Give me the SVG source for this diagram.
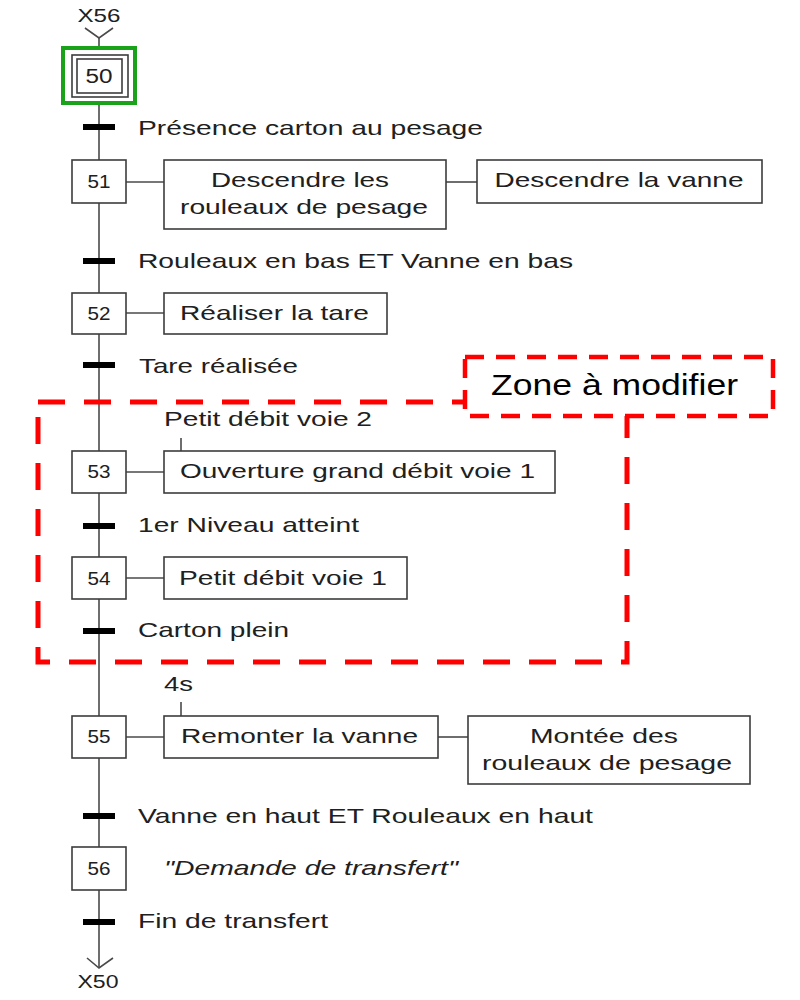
<svg xmlns="http://www.w3.org/2000/svg" width="800" height="1000" viewBox="0 0 800 1000">
<style>
  .bg{fill:#ffffff}
  .step{fill:#ffffff;stroke:#3c3c3c;stroke-width:1.6}
  .act{fill:#ffffff;stroke:#3c3c3c;stroke-width:1.6}
  .ln{stroke:#4a4a4a;stroke-width:1.6;fill:none}
  .bar{fill:#000000}
  .t{font-family:"Liberation Sans",Arial,sans-serif;font-size:21px;fill:#202020}
  .n{font-family:"Liberation Sans",Arial,sans-serif;font-size:19px;fill:#202020;text-anchor:middle}
  .m{text-anchor:middle}
  .it{font-style:italic}
  .zone{fill:none;stroke:#ff0000;stroke-width:5;stroke-dasharray:27 19}
  .zbox{fill:#ffffff;stroke:#ff0000;stroke-width:4.5;stroke-dasharray:19 12}
</style>
<rect class="bg" x="0" y="0" width="800" height="1000"/>

<g id="connectors">
  <line class="ln" x1="99" y1="38" x2="99" y2="968"/>
  <polyline class="ln" points="85,28 99,38 113,28"/>
  <polyline class="ln" points="87,958 99,968 113,958"/>
  <line class="ln" x1="126" y1="182" x2="164" y2="182"/>
  <line class="ln" x1="446" y1="182" x2="477" y2="182"/>
  <line class="ln" x1="126" y1="313" x2="164" y2="313"/>
  <line class="ln" x1="126" y1="472" x2="164" y2="472"/>
  <line class="ln" x1="181" y1="438" x2="181" y2="451"/>
  <line class="ln" x1="126" y1="578" x2="164" y2="578"/>
  <line class="ln" x1="126" y1="737" x2="164" y2="737"/>
  <line class="ln" x1="181" y1="702" x2="181" y2="716"/>
  <line class="ln" x1="438" y1="737" x2="468" y2="737"/>
</g>

<g id="zone">
  <rect class="zone" x="38" y="402" width="589" height="260"/>
  <rect class="zbox" x="465" y="357" width="308" height="59"/>
  <text x="491" y="395" font-family="Liberation Sans, Arial, sans-serif" font-size="30" fill="#000000" textLength="247" lengthAdjust="spacingAndGlyphs">Zone à modifier</text>
</g>

<g id="ref-top">
  <text class="t m" x="99" y="22" style="font-size:18px" textLength="43" lengthAdjust="spacingAndGlyphs">X56</text>
</g>

<g id="step50">
  <rect x="63" y="48" width="72" height="55" fill="#ffffff" stroke="#1aa31a" stroke-width="4"/>
  <rect class="step" x="72" y="55" width="56" height="42"/>
  <rect class="step" x="77" y="59" width="45" height="34"/>
  <text class="n" x="99" y="83" style="font-size:20px" textLength="27" lengthAdjust="spacingAndGlyphs">50</text>
</g>

<g id="t50-51">
  <rect class="bar" x="83" y="124" width="32" height="6"/>
  <text class="t" x="138" y="135" textLength="345" lengthAdjust="spacingAndGlyphs">Présence carton au pesage</text>
</g>

<g id="step51">
  <rect class="step" x="72" y="160" width="54" height="43"/>
  <text class="n" x="99" y="188" textLength="23" lengthAdjust="spacingAndGlyphs">51</text>
</g>
<g id="action51a">
  <rect class="act" x="164" y="160" width="282" height="69"/>
  <text class="t m" x="300" y="187" textLength="178" lengthAdjust="spacingAndGlyphs">Descendre les</text>
  <text class="t m" x="304" y="214" textLength="248" lengthAdjust="spacingAndGlyphs">rouleaux de pesage</text>
</g>
<g id="action51b">
  <rect class="act" x="477" y="160" width="285" height="43"/>
  <text class="t m" x="619" y="187" textLength="249" lengthAdjust="spacingAndGlyphs">Descendre la vanne</text>
</g>

<g id="t51-52">
  <rect class="bar" x="83" y="258" width="32" height="6"/>
  <text class="t" x="138" y="268" textLength="435" lengthAdjust="spacingAndGlyphs">Rouleaux en bas ET Vanne en bas</text>
</g>

<g id="step52">
  <rect class="step" x="72" y="293" width="54" height="41"/>
  <text class="n" x="99" y="320" textLength="23" lengthAdjust="spacingAndGlyphs">52</text>
</g>
<g id="action52">
  <rect class="act" x="164" y="293" width="223" height="41"/>
  <text class="t" x="180" y="320" textLength="189" lengthAdjust="spacingAndGlyphs">Réaliser la tare</text>
</g>

<g id="t52-53">
  <rect class="bar" x="83" y="362" width="32" height="6"/>
  <text class="t" x="139" y="373" textLength="159" lengthAdjust="spacingAndGlyphs">Tare réalisée</text>
</g>

<g id="step53">
  <rect class="step" x="72" y="451" width="54" height="42"/>
  <text class="n" x="99" y="478" textLength="23" lengthAdjust="spacingAndGlyphs">53</text>
</g>
<g id="action53">
  <text class="t" x="164" y="426" textLength="208" lengthAdjust="spacingAndGlyphs">Petit débit voie 2</text>
  <rect class="act" x="164" y="451" width="391" height="42"/>
  <text class="t" x="180" y="478" textLength="355" lengthAdjust="spacingAndGlyphs">Ouverture grand débit voie 1</text>
</g>

<g id="t53-54">
  <rect class="bar" x="83" y="523" width="32" height="6"/>
  <text class="t" x="138" y="532" textLength="221" lengthAdjust="spacingAndGlyphs">1er Niveau atteint</text>
</g>

<g id="step54">
  <rect class="step" x="72" y="557" width="54" height="42"/>
  <text class="n" x="99" y="585" textLength="23" lengthAdjust="spacingAndGlyphs">54</text>
</g>
<g id="action54">
  <rect class="act" x="164" y="557" width="243" height="42"/>
  <text class="t" x="179" y="585" textLength="208" lengthAdjust="spacingAndGlyphs">Petit débit voie 1</text>
</g>

<g id="t54-55">
  <rect class="bar" x="83" y="628" width="32" height="6"/>
  <text class="t" x="138" y="637" textLength="151" lengthAdjust="spacingAndGlyphs">Carton plein</text>
</g>

<g id="step55">
  <rect class="step" x="72" y="716" width="54" height="42"/>
  <text class="n" x="99" y="743" textLength="23" lengthAdjust="spacingAndGlyphs">55</text>
</g>
<g id="action55a">
  <text class="t" x="164" y="691" textLength="29" lengthAdjust="spacingAndGlyphs">4s</text>
  <rect class="act" x="164" y="716" width="274" height="42"/>
  <text class="t" x="181" y="743" textLength="237" lengthAdjust="spacingAndGlyphs">Remonter la vanne</text>
</g>
<g id="action55b">
  <rect class="act" x="468" y="716" width="282" height="68"/>
  <text class="t m" x="604" y="743" textLength="148" lengthAdjust="spacingAndGlyphs">Montée des</text>
  <text class="t m" x="607" y="770" textLength="250" lengthAdjust="spacingAndGlyphs">rouleaux de pesage</text>
</g>

<g id="t55-56">
  <rect class="bar" x="83" y="813" width="32" height="6"/>
  <text class="t" x="138" y="823" textLength="455" lengthAdjust="spacingAndGlyphs">Vanne en haut ET Rouleaux en haut</text>
</g>

<g id="step56">
  <rect class="step" x="72" y="847" width="54" height="43"/>
  <text class="n" x="99" y="875" textLength="23" lengthAdjust="spacingAndGlyphs">56</text>
</g>
<g id="action56">
  <text class="t it" x="164" y="875" textLength="294" lengthAdjust="spacingAndGlyphs">"Demande de transfert"</text>
</g>

<g id="t56-50">
  <rect class="bar" x="83" y="919" width="32" height="6"/>
  <text class="t" x="138" y="928" textLength="190" lengthAdjust="spacingAndGlyphs">Fin de transfert</text>
</g>

<g id="ref-bottom">
  <text class="t m" x="98" y="988" style="font-size:18px" textLength="41" lengthAdjust="spacingAndGlyphs">X50</text>
</g>
</svg>
